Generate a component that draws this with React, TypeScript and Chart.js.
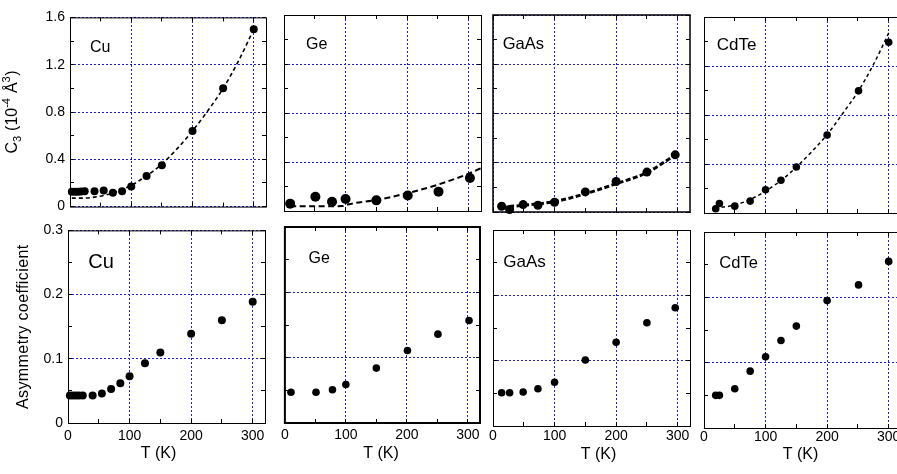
import React, { useEffect, useRef } from 'react';
import { Chart, registerables } from 'chart.js';

Chart.register(...registerables);

const FONT = '"Liberation Sans", Arial, Helvetica, sans-serif';
const GRID_COLOR = 'rgb(30,30,225)';

// ---------- data ----------
// Cu
const cuT = [3, 8, 13, 18, 24, 40, 55, 70, 85, 100, 125, 150, 200, 250, 300];
const cuC3 = [0.125, 0.125, 0.125, 0.127, 0.13, 0.13, 0.136, 0.117, 0.13, 0.171, 0.259, 0.349, 0.64, 1.0, 1.5];
const cuFitT = [3, 20, 40, 60, 80, 100, 125, 150, 175, 200, 225, 250, 275, 300];
const cuFitC3 = [0.072, 0.072, 0.08, 0.1, 0.135, 0.18, 0.26, 0.36, 0.49, 0.64, 0.81, 1.0, 1.23, 1.5];
const cuAsym = [0.043, 0.043, 0.043, 0.043, 0.043, 0.043, 0.046, 0.053, 0.062, 0.073, 0.093, 0.11, 0.139, 0.16, 0.189];

// Ge
const geT = [10, 51, 78, 100, 150, 201, 251, 302];
const geC3 = [0.06, 0.117, 0.076, 0.098, 0.087, 0.127, 0.158, 0.27];
const geFitT = [10, 50, 95, 105, 150, 200, 250, 300, 320];
const geFitC3 = [0.038, 0.038, 0.04, 0.055, 0.09, 0.145, 0.215, 0.305, 0.35];
const geAsym = [0.047, 0.047, 0.051, 0.059, 0.084, 0.111, 0.136, 0.157];

// GaAs
const gaasT = [14, 27, 49, 73, 100, 150, 200, 250, 296];
const gaasC3 = [0.047, 0.02, 0.06, 0.055, 0.079, 0.163, 0.248, 0.324, 0.464];
const gaasFitT = [14, 50, 100, 150, 200, 250, 296];
const gaasFitC3 = [0.04, 0.055, 0.085, 0.148, 0.23, 0.32, 0.464];
const gaasAsym = [0.051, 0.051, 0.052, 0.057, 0.067, 0.101, 0.128, 0.158, 0.181];

// CdTe
const cdteT = [19, 25, 50, 75, 100, 125, 150, 200, 251, 300];
const cdteC3 = [0.035, 0.078, 0.056, 0.097, 0.19, 0.267, 0.375, 0.637, 0.997, 1.394];
const cdteFitT = [18, 50, 75, 100, 125, 150, 175, 200, 225, 250, 275, 302];
const cdteFitC3 = [0.04, 0.065, 0.11, 0.18, 0.265, 0.375, 0.5, 0.64, 0.81, 0.99, 1.21, 1.49];
const cdteAsym = [0.05, 0.05, 0.06, 0.087, 0.109, 0.134, 0.156, 0.195, 0.219, 0.255];

// ---------- axes ----------
const xRange = [0, 320];
const xTickLabels = [0, 100, 200, 300];
const xMinorTicks = [0, 50, 100, 150, 200, 250, 300];
const c3Range = [0, 1.6];
const c3TickLabels = [0, 0.4, 0.8, 1.2, 1.6];
const c3MinorTicks = [0, 0.2, 0.4, 0.6, 0.8, 1.0, 1.2, 1.4, 1.6];
const asymRange = [0, 0.3];
const asymTickLabels = [0, 0.1, 0.2, 0.3];
const asymMinorTicks = [0, 0.05, 0.1, 0.15, 0.2, 0.25, 0.3];

const xTitle = 'T (K)';
const asymTitle = 'Asymmetry coefficient';
const c3TitleSegments = [
  { text: 'C', kind: 'n' },
  { text: '3', kind: 'sub' },
  { text: ' (10', kind: 'n' },
  { text: '-4', kind: 'sup' },
  { text: ' Å', kind: 'n' },
  { text: '3', kind: 'sup' },
  { text: ')', kind: 'n' },
];

type Cfg = {
  id: string; row: number; col: number;
  left: number; top: number; width: number; height: number;
  label: string; labelSize: number; labelDx: number; labelDy: number;
  xs: number[]; ys: number[]; fitX?: number[]; fitY?: number[];
  r: number; fitW?: number; fitDash?: number[]; frameW: number;
  tickPad?: number; titleDx?: number; titleDy?: number;
};

const panels: Cfg[] = [
  { id: 'cu-c3', row: 0, col: 0, left: 70, top: 14, width: 196, height: 196, label: 'Cu', labelSize: 16, labelDx: 20, labelDy: 28.7, xs: cuT, ys: cuC3, fitX: cuFitT, fitY: cuFitC3, r: 4, fitW: 1.6, fitDash: [4, 3], frameW: 1 },
  { id: 'ge-c3', row: 0, col: 1, left: 284, top: 15, width: 197, height: 196, label: 'Ge', labelSize: 16, labelDx: 22, labelDy: 28.3, xs: geT, ys: geC3, fitX: geFitT, fitY: geFitC3, r: 5, fitW: 2, fitDash: [6, 3.5], frameW: 1 },
  { id: 'gaas-c3', row: 0, col: 2, left: 493, top: 15, width: 197, height: 197, label: 'GaAs', labelSize: 16.5, labelDx: 9.7, labelDy: 28.3, xs: gaasT, ys: gaasC3, fitX: gaasFitT, fitY: gaasFitC3, r: 4.5, fitW: 3, fitDash: [5, 2.5], frameW: 1.5 },
  { id: 'cdte-c3', row: 0, col: 3, left: 704, top: 17, width: 197, height: 196, label: 'CdTe', labelSize: 17, labelDx: 12.7, labelDy: 27.3, xs: cdteT, ys: cdteC3, fitX: cdteFitT, fitY: cdteFitC3, r: 3.8, fitW: 1.5, fitDash: [3.5, 3], frameW: 1 },
  { id: 'cu-as', row: 1, col: 0, left: 68, top: 227, width: 197, height: 196, label: 'Cu', labelSize: 20, labelDx: 20.3, labelDy: 30.5, xs: cuT, ys: cuAsym, r: 4, frameW: 1, tickPad: 5, titleDx: -8, titleDy: 31 },
  { id: 'ge-as', row: 1, col: 1, left: 283, top: 227, width: 197, height: 196, label: 'Ge', labelSize: 16, labelDx: 23.7, labelDy: 30.3, xs: geT, ys: geAsym, r: 3.8, frameW: 2, tickPad: 4, titleDx: -1.5, titleDy: 30.5 },
  { id: 'gaas-as', row: 1, col: 2, left: 493, top: 230, width: 197, height: 196, label: 'GaAs', labelSize: 17, labelDx: 10.3, labelDy: 31, xs: gaasT, ys: gaasAsym, r: 3.8, frameW: 1, tickPad: 2, titleDx: 7, titleDy: 29 },
  { id: 'cdte-as', row: 1, col: 3, left: 704, top: 232, width: 197, height: 196, label: 'CdTe', labelSize: 16.5, labelDx: 15.3, labelDy: 29.7, xs: cdteT, ys: cdteAsym, r: 3.8, frameW: 1, tickPad: 0.3, titleDx: -2, titleDy: 27 },
];

function layoutOf(cfg: Cfg) {
  const padL = cfg.col === 0 ? cfg.left : 6;
  const padT = 10;
  const padR = 6;
  const padB = cfg.row === 0 ? 10 : 50;
  return { padL, padT, padR, padB, W: padL + cfg.width + padR, H: padT + cfg.height + padB };
}

function Panel({ cfg }: { cfg: Cfg }) {
  const ref = useRef<HTMLCanvasElement>(null);
  const { padL, padT, padR, padB, W, H } = layoutOf(cfg);
  useEffect(() => {
    if (!ref.current) return;
    const isTop = cfg.row === 0;
    const yRange = isTop ? c3Range : asymRange;
    const yLabels = isTop ? c3TickLabels : asymTickLabels;
    const yMinor = isTop ? c3MinorTicks : asymMinorTicks;

    const decor = {
      id: 'decor',
      beforeDatasetsDraw(chart: any) {
        const { ctx, chartArea: a, scales } = chart;
        const x = scales.x, y = scales.y;
        ctx.save();
        // dotted blue grid at the major ticks
        ctx.fillStyle = GRID_COLOR;
        const t0 = Math.round(a.top), b0 = Math.round(a.bottom);
        const l0 = Math.round(a.left), r0 = Math.round(a.right);
        for (const v of xTickLabels) {
          const px = Math.floor(x.getPixelForValue(v));
          for (let yy = t0; yy < b0; yy += 4) ctx.fillRect(px, yy, 1, 2);
        }
        for (const v of yLabels) {
          const py = Math.floor(y.getPixelForValue(v));
          for (let xx = l0; xx < r0; xx += 4) ctx.fillRect(xx, py, 2, 1);
        }
        // inward tick marks
        ctx.strokeStyle = '#000';
        ctx.lineWidth = 1;
        ctx.setLineDash([]);
        ctx.beginPath();
        for (const v of xMinorTicks) {
          const px = Math.floor(x.getPixelForValue(v)) + 0.5;
          ctx.moveTo(px, a.bottom); ctx.lineTo(px, a.bottom - 4);
          ctx.moveTo(px, a.top); ctx.lineTo(px, a.top + 4);
        }
        for (const v of yMinor) {
          const py = Math.floor(y.getPixelForValue(v)) + 0.5;
          ctx.moveTo(a.left, py); ctx.lineTo(a.left + 4, py);
          ctx.moveTo(a.right, py); ctx.lineTo(a.right - 4, py);
        }
        ctx.stroke();
        // frame
        ctx.lineWidth = cfg.frameW;
        const off = cfg.frameW % 2 === 1 ? 0.5 : 0;
        ctx.strokeRect(a.left + off, a.top + off, a.right - a.left, a.bottom - a.top);
        ctx.restore();
      },
      afterDraw(chart: any) {
        const { ctx, chartArea: a } = chart;
        ctx.save();
        ctx.fillStyle = '#000';
        // panel label
        ctx.font = `${cfg.labelSize}px ${FONT}`;
        ctx.textAlign = 'left';
        ctx.textBaseline = 'alphabetic';
        ctx.fillText(cfg.label, a.left + cfg.labelDx, a.top + cfg.labelDy + 0.36 * cfg.labelSize);
        // x title
        if (!isTop) {
          ctx.font = `16px ${FONT}`;
          ctx.textAlign = 'center';
          ctx.textBaseline = 'middle';
          ctx.fillText(xTitle, (a.left + a.right) / 2 + (cfg.titleDx || 0), a.bottom + (cfg.titleDy || 30));
        }
        // y title
        if (cfg.col === 0) {
          const cy = (a.top + a.bottom) / 2;
          ctx.translate(isTop ? 10.8 : 21.7, cy);
          ctx.rotate(-Math.PI / 2);
          ctx.textAlign = 'left';
          ctx.textBaseline = 'alphabetic';
          const base = 5.8;
          if (isTop) {
            let total = 0;
            const ws: number[] = [];
            for (const s of c3TitleSegments) {
              ctx.font = `${s.kind === 'n' ? 16 : 11}px ${FONT}`;
              const w = ctx.measureText(s.text).width + (s.kind === 'n' ? 0 : 0.5);
              ws.push(w); total += w;
            }
            let px = -total / 2;
            c3TitleSegments.forEach((s, i) => {
              ctx.font = `${s.kind === 'n' ? 16 : 11}px ${FONT}`;
              const dy = s.kind === 'sub' ? 4 : s.kind === 'sup' ? -7 : 0;
              ctx.fillText(s.text, px, base + dy);
              px += ws[i];
            });
          } else {
            ctx.font = `16px ${FONT}`;
            try { (ctx as any).letterSpacing = '0.4px'; } catch (e) { /* ignore */ }
            ctx.textAlign = 'center';
            ctx.fillText(asymTitle, 0, base);
          }
        }
        ctx.restore();
      },
    };

    const datasets: any[] = [
      {
        data: cfg.xs.map((v, i) => ({ x: v, y: cfg.ys[i] })),
        showLine: false,
        pointRadius: cfg.r,
        pointBackgroundColor: '#000',
        pointBorderWidth: 0,
        pointBorderColor: '#000',
        clip: false,
      },
    ];
    if (cfg.fitX && cfg.fitY) {
      const fy = cfg.fitY;
      datasets.push({
        data: cfg.fitX.map((v, i) => ({ x: v, y: fy[i] })),
        showLine: true,
        borderColor: '#000',
        borderWidth: cfg.fitW,
        borderDash: cfg.fitDash,
        pointRadius: 0,
        cubicInterpolationMode: 'monotone',
        fill: false,
        clip: false,
      });
    }

    const chart = new Chart(ref.current, {
      type: 'scatter',
      data: { datasets },
      options: {
        animation: false,
        responsive: false,
        maintainAspectRatio: false,
        devicePixelRatio: 1,
        events: [],
        layout: { padding: { left: 0, top: padT, right: padR, bottom: 0 } },
        plugins: { legend: { display: false }, tooltip: { enabled: false }, title: { display: false } },
        scales: {
          x: {
            type: 'linear',
            position: 'bottom',
            min: xRange[0],
            max: xRange[1],
            afterFit: (s: any) => { s.height = padB; },
            afterBuildTicks: (s: any) => { s.ticks = xTickLabels.map((v) => ({ value: v })); },
            ticks: {
              display: !isTop,
              padding: cfg.tickPad ?? 5,
              color: '#000',
              font: { family: FONT, size: 14 },
              maxRotation: 0,
              autoSkip: false,
              callback: (v: any) => String(v),
            },
            grid: { display: false, drawTicks: false },
            border: { display: false },
          },
          y: {
            type: 'linear',
            position: 'left',
            min: yRange[0],
            max: yRange[1],
            afterFit: (s: any) => { s.width = padL; },
            afterBuildTicks: (s: any) => { s.ticks = yLabels.map((v) => ({ value: v })); },
            ticks: {
              display: cfg.col === 0,
              padding: 5,
              color: '#000',
              font: { family: FONT, size: 14 },
              autoSkip: false,
              callback: (v: any) => String(v),
            },
            grid: { display: false, drawTicks: false },
            border: { display: false },
          },
        },
      } as any,
      plugins: [decor],
    });
    return () => chart.destroy();
  }, []);
  return (
    <canvas
      ref={ref}
      width={W}
      height={H}
      style={{ position: 'absolute', left: cfg.left - padL, top: cfg.top - padT, width: W, height: H }}
    />
  );
}

export default function App() {
  return (
    <div style={{ position: 'absolute', left: 0, top: 0, width: 897, height: 474, overflow: 'hidden', background: '#fff' }}>
      {panels.map((p) => (
        <Panel key={p.id} cfg={p} />
      ))}
    </div>
  );
}
